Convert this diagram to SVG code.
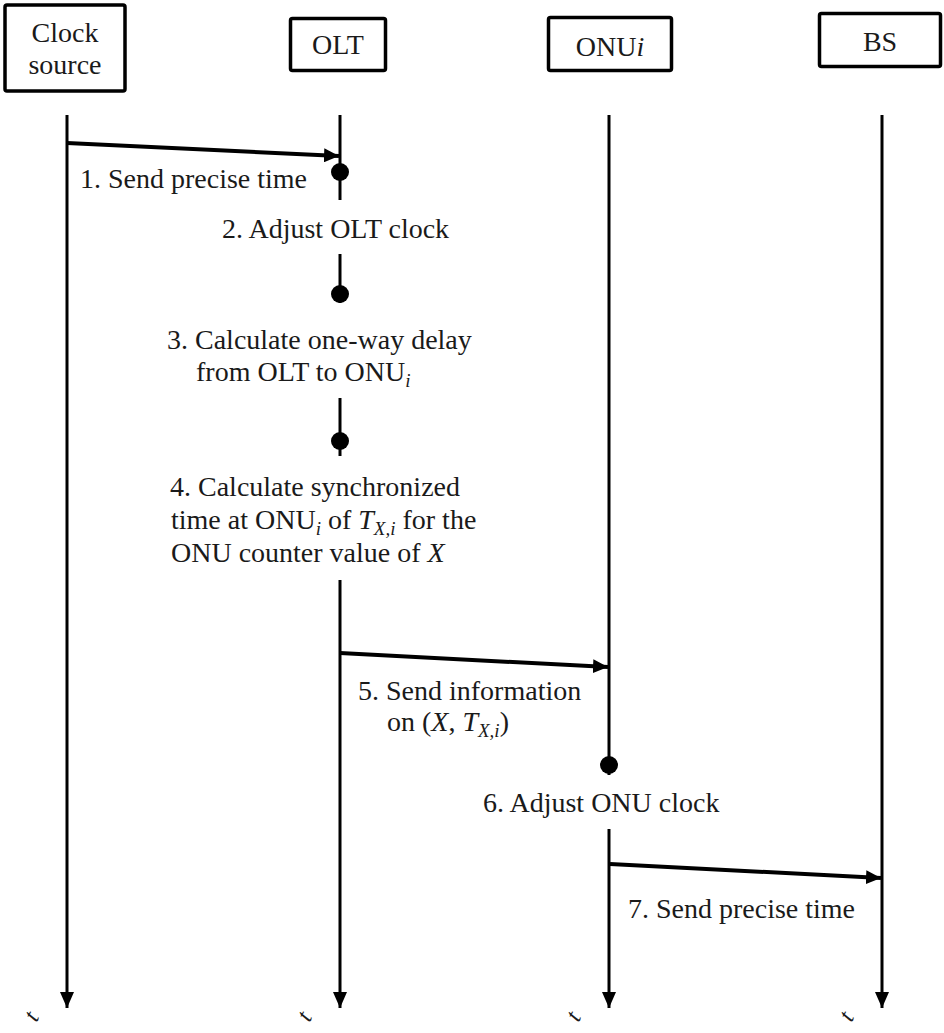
<svg xmlns="http://www.w3.org/2000/svg" width="944" height="1033" viewBox="0 0 944 1033">
<defs>
<marker id="ah" markerUnits="userSpaceOnUse" markerWidth="16" markerHeight="14" refX="15" refY="7" orient="auto"><path d="M0,0 L15,7 L0,14 z" fill="#000"/></marker>
<marker id="ahv" markerUnits="userSpaceOnUse" markerWidth="17" markerHeight="14" refX="16" refY="7" orient="auto"><path d="M0,0 L16,7 L0,14 z" fill="#000"/></marker>
<style>
.box{fill:#fff;stroke:#000;stroke-width:3.5}
.life{stroke:#000;stroke-width:3;fill:none}
.msg{stroke:#000;stroke-width:4;fill:none}
.dot{fill:#000}
text{font-family:"Liberation Serif","Times New Roman",serif;font-size:28px;fill:#1a1a1a}
.sub{font-size:19px}
.it{font-style:italic}
.mid{text-anchor:middle}
.tl{font-size:24px;font-style:italic;text-anchor:middle}
</style>
</defs>
<rect width="944" height="1033" fill="#fff"/>
<g id="clock-source">
<rect class="box" x="5" y="5" width="120" height="86" rx="2"/>
<text class="mid" x="65" y="42">Clock</text>
<text class="mid" x="65" y="74">source</text>
</g>
<g id="olt">
<rect class="box" x="290.5" y="18.5" width="95" height="52" rx="2"/>
<text class="mid" x="338" y="54">OLT</text>
</g>
<g id="onu">
<rect class="box" x="548.5" y="17.5" width="123" height="53" rx="2"/>
<text class="mid" x="610" y="56">ONU<tspan class="it">i</tspan></text>
</g>
<g id="bs">
<rect class="box" x="819.5" y="13.5" width="121" height="53" rx="2"/>
<text class="mid" x="880" y="51">BS</text>
</g>
<g id="connectors">
<line class="life" x1="67" y1="115" x2="67" y2="1008" marker-end="url(#ahv)"/>
<line class="life" x1="340" y1="115" x2="340" y2="200"/>
<line class="life" x1="340" y1="254" x2="340" y2="303"/>
<line class="life" x1="340" y1="398" x2="340" y2="456"/>
<line class="life" x1="340" y1="580" x2="340" y2="1008" marker-end="url(#ahv)"/>
<line class="life" x1="609" y1="115" x2="609" y2="775"/>
<line class="life" x1="609" y1="829" x2="609" y2="1008" marker-end="url(#ahv)"/>
<line class="life" x1="882" y1="115" x2="882" y2="1008" marker-end="url(#ahv)"/>
<line class="msg" x1="67" y1="143" x2="339" y2="156" marker-end="url(#ah)"/>
<line class="msg" x1="340" y1="653" x2="608" y2="667" marker-end="url(#ah)"/>
<line class="msg" x1="610" y1="864" x2="881" y2="878" marker-end="url(#ah)"/>
<circle class="dot" cx="340" cy="172" r="9"/>
<circle class="dot" cx="340" cy="294" r="9"/>
<circle class="dot" cx="340" cy="441" r="9"/>
<circle class="dot" cx="609" cy="765" r="9"/>
</g>
<g id="labels">
<text x="80" y="188">1. Send precise time</text>
<text x="222" y="238">2. Adjust OLT clock</text>
<text x="167" y="349">3. Calculate one-way delay</text>
<text x="196" y="381">from OLT to ONU<tspan class="sub it" dy="6">i</tspan></text>
<text x="170" y="496">4. Calculate synchronized</text>
<text x="171" y="529">time at ONU<tspan class="sub it" dy="6">i</tspan><tspan dy="-6"> of </tspan><tspan class="it">T</tspan><tspan class="sub it" dy="6">X,i</tspan><tspan dy="-6"> for the</tspan></text>
<text x="171" y="562">ONU counter value of <tspan class="it">X</tspan></text>
<text x="358" y="700">5. Send information</text>
<text x="387" y="731">on (<tspan class="it">X</tspan>, <tspan class="it">T</tspan><tspan class="sub it" dy="6">X,i</tspan><tspan dy="-6">)</tspan></text>
<text x="483" y="812">6. Adjust ONU clock</text>
<text x="628" y="918">7. Send precise time</text>
</g>
<g id="time-labels">
<text class="tl" transform="translate(38,1020) rotate(-60)">t</text>
<text class="tl" transform="translate(311,1020) rotate(-60)">t</text>
<text class="tl" transform="translate(580,1020) rotate(-60)">t</text>
<text class="tl" transform="translate(853,1020) rotate(-60)">t</text>
</g>
</svg>
